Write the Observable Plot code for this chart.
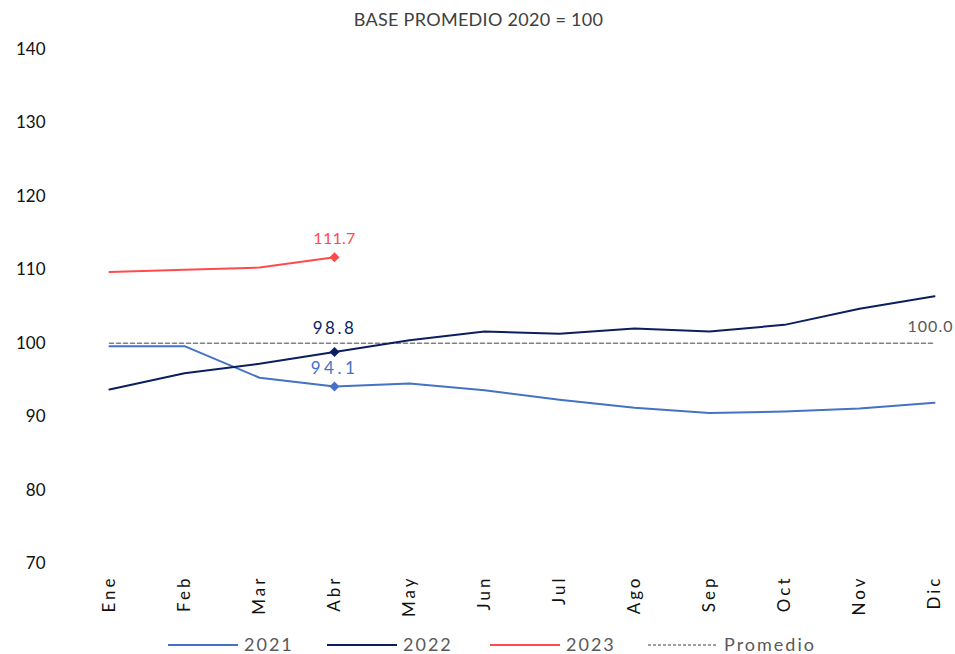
<!DOCTYPE html>
<html>
<head>
<meta charset="utf-8">
<script src="https://cdn.jsdelivr.net/npm/d3@7"></script>
<script src="https://cdn.jsdelivr.net/npm/@observablehq/plot@0.6"></script>
<style>
  html, body { margin: 0; padding: 0; background: #fff; }
  body { width: 955px; height: 654px; overflow: hidden; font-family: Lato, "Noto Sans", sans-serif; }
  #title { height: 30px; line-height: 38px; text-align: center; font-size: 18px; color: #404040; letter-spacing: 0.3px; padding-left: 2px; }
  #chart { height: 595px; }
  #legend { height: 29px; position: relative; font-size: 18px; color: #595959; letter-spacing: 2px; }
  .lg { position: absolute; top: 10px; display: flex; align-items: center; height: 19px; line-height: 19px; }
  .lg svg { margin-right: 6px; }
  g[aria-label="x-axis tick label"] text { letter-spacing: 3px; }
</style>
</head>
<body>
<div id="title">BASE PROMEDIO 2020 = 100</div>
<div id="chart"></div>
<div id="legend"></div>
<script>
const months = ["Ene","Feb","Mar","Abr","May","Jun","Jul","Ago","Sep","Oct","Nov","Dic"];
const v2021 = [99.6, 99.6, 95.3, 94.1, 94.5, 93.6, 92.3, 91.2, 90.5, 90.7, 91.1, 91.9];
const v2022 = [93.7, 95.9, 97.2, 98.8, 100.4, 101.6, 101.3, 102.0, 101.6, 102.5, 104.7, 106.4];
const v2023 = [109.7, 110.0, 110.3, 111.7];
const promedio = 100.0;
const seriesNames = ["2021", "2022", "2023", "Promedio"];
const seriesColors = ["#4472C4", "#0B1F5E", "#FF4B4B", "#808080"];
const yTicks = [70, 80, 90, 100, 110, 120, 130, 140];
const markMonth = "Abr";

const rows = [];
[v2021, v2022, v2023].forEach((arr, i) => arr.forEach((v, j) => rows.push({serie: seriesNames[i], mes: months[j], valor: v})));
const promRows = months.map(m => ({serie: "Promedio", mes: m, valor: promedio}));
const marked = rows.filter(d => d.mes === markMonth);
const color = d3.scaleOrdinal(seriesNames, seriesColors);
const lastProm = [{mes: months[months.length - 1], valor: promedio}];

const plot = Plot.plot({
  width: 955,
  height: 595,
  marginLeft: 107,
  marginRight: 20,
  marginTop: 19,
  marginBottom: 62,
  style: {fontFamily: "Lato, 'Noto Sans', sans-serif", background: "#fff"},
  x: {type: "point", domain: months, padding: 0, label: null},
  y: {domain: [70, 140], label: null},
  marks: [
    Plot.axisY({ticks: yTicks, tickSize: 0, tickPadding: 62, fontSize: 17, tickFormat: d => String(d), fill: "#111", label: null}),
    Plot.axisX({tickSize: 0, tickPadding: 12, tickRotate: -90, fontSize: 17, fill: "#111", label: null}),
    Plot.line(promRows, {x: "mes", y: "valor", stroke: "#808080", strokeWidth: 1.6, strokeDasharray: "4,3"}),
    Plot.line(rows, {x: "mes", y: "valor", z: "serie", stroke: d => color(d.serie), strokeWidth: 2}),
    Plot.dot(marked, {x: "mes", y: "valor", symbol: "diamond2", r: 4.5, fill: d => color(d.serie), stroke: null}),
    Plot.text(marked.filter(d => d.serie === "2023"), {x: "mes", y: "valor", text: d => d.valor.toFixed(1), fill: d => color(d.serie), fontSize: 16, dy: -18}),
    Plot.text(marked.filter(d => d.serie === "2021"), {x: "mes", y: "valor", text: d => d.valor.toFixed(1), fill: d => color(d.serie), fontSize: 17, dy: -18}),
    Plot.text(marked.filter(d => d.serie === "2022"), {x: "mes", y: "valor", text: d => d.valor.toFixed(1), fill: d => color(d.serie), fontSize: 17, dy: -23}),
    Plot.text(lastProm, {x: "mes", y: "valor", text: d => d.valor.toFixed(1), fill: "#595959", fontSize: 16, dy: -16, dx: -4})
  ]
});
// letter spacing of the value labels, as in the reference
const spacing = {"94.1": "3.5px", "98.8": "2.5px", "111.7": "0.3px", "100.0": "1px"};
d3.select(plot).selectAll('g[aria-label="text"] text').each(function() {
  const s = spacing[this.textContent];
  if (s) this.style.letterSpacing = s;
});
document.getElementById("chart").appendChild(plot);

const legendPos = [168, 327, 490, 648];
const legend = document.getElementById("legend");
seriesNames.forEach((s, i) => {
  const item = document.createElement("div");
  item.className = "lg";
  item.style.left = legendPos[i] + "px";
  const dash = s === "Promedio" ? 'stroke-dasharray="3,2" stroke-width="1.5"' : 'stroke-width="2"';
  item.innerHTML = `<svg width="70" height="10"><line x1="0" x2="70" y1="5" y2="5" stroke="${seriesColors[i]}" ${dash}/></svg><span>${s}</span>`;
  legend.appendChild(item);
});
</script>
</body>
</html>
